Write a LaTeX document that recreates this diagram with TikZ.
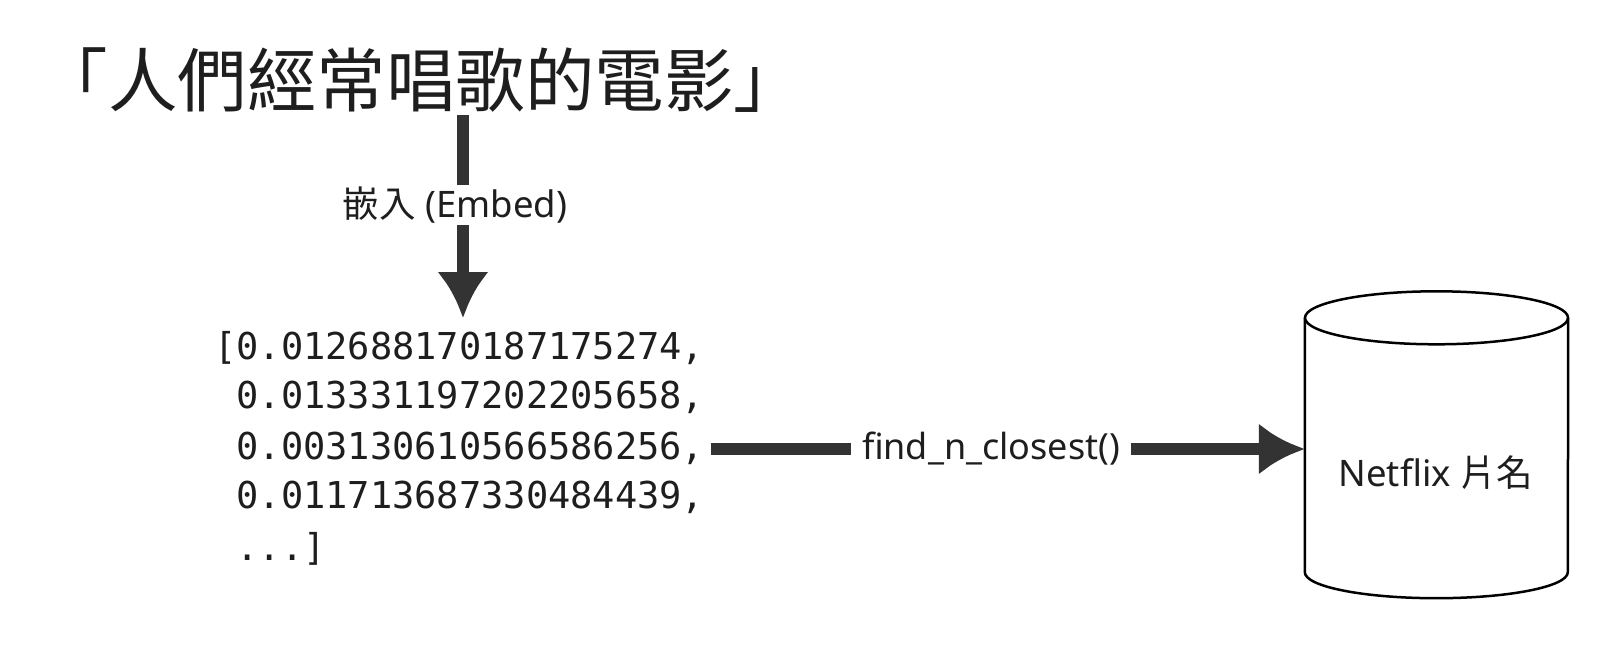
\documentclass[tikz,border=0pt]{standalone}
\usepackage{fontspec}
\setmainfont{Noto Sans}
\newfontfamily\cjkfont{Noto Sans CJK TC}
\newfontfamily\monofont{DejaVu Sans Mono}
\usetikzlibrary{arrows.meta,calc}
\definecolor{conncol}{HTML}{333333}
\definecolor{txtcol}{HTML}{1E1E1E}
\tikzset{
  conn/.style={draw=conncol, line width=12pt},
  connarrow/.style={conn, -{Latex[length=46pt,width=52pt]}},
  titletext/.style={text=txtcol, inner sep=0pt, anchor=base, font=\cjkfont\fontsize{69.5}{76}\selectfont},
  lbl/.style={text=txtcol, inner xsep=11pt, inner ysep=2pt, font=\fontsize{36}{42}\selectfont},
  vecline/.style={text=txtcol, inner sep=0pt, anchor=base west, font=\monofont\fontsize{37}{42}\selectfont},
  dbbox/.style={inner sep=0pt, minimum width=263pt, minimum height=254pt},
  cyl/.style={draw=black, line width=2.5pt, fill=white},
}
\begin{document}
\begin{tikzpicture}[x=1pt,y=-1pt]
\useasboundingbox[fill=white] (0,0) rectangle (1608,656);
% title
\node[titletext] (t) at (421,106) {「人們經常唱歌的電影」};
% embed label and arrow
\node[lbl, font=\fontsize{36.5}{42}\selectfont] (e) at (455,205) {{\cjkfont 嵌入} (Embed)};
\coordinate (atop) at (463,115);
\coordinate (abot) at (463,318);
\draw[conn] (atop) -- (atop |- e.north);
\draw[connarrow] (atop |- e.south) -- (abot);
% vector
\node[vecline] (v1) at (214,359) {[0.012688170187175274,};
\node[vecline] (v2) at (214,408) {\hphantom{[}0.013331197202205658,};
\node[vecline] (v3) at (214,459) {\hphantom{[}0.003130610566586256,};
\node[vecline] (v4) at (214,508) {\hphantom{[}0.011713687330484439,};
\node[vecline] (v5) at (214,560) {\hphantom{[}...]};
% database cylinder
\node[dbbox] (db) at (1436.5,445) {};
\draw[cyl] (db.north west) -- (db.south west)
  arc[start angle=180, end angle=360, x radius=131.5pt, y radius=26pt]
  -- (db.north east);
\draw[cyl] (db.north) ellipse [x radius=131.5pt, y radius=26.5pt];
\node[text=txtcol, font=\fontsize{36.5}{42}\selectfont] (dbt) at (1436,473) {Netflix {\cjkfont 片名}};
% find arrow
\node[lbl] (f) at (991,449) {find\_n\_closest()};
\coordinate (hstart) at (711,449);
\draw[conn] (hstart) -- (f.west);
\draw[connarrow] (f.east) -- (db.west |- f);
\end{tikzpicture}
\end{document}
